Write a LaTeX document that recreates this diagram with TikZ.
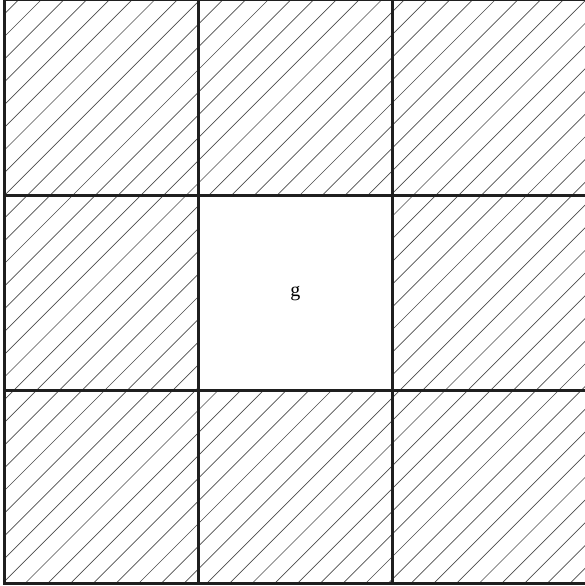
\documentclass[tikz,border=0pt]{standalone}
\usepackage{fontspec}
\setmainfont{Liberation Serif}
\begin{document}
\begin{tikzpicture}[x=1pt, y=1pt,
    hatch/.style={black!70, line width=0.65pt},
    grid/.style={black!88, line width=2.8pt}]
    \useasboundingbox (0,0) rectangle (584,586);
    \coordinate (SW) at (4.6,2.8);
    \coordinate (NE) at (586,586.3);
    \coordinate (A) at (198.4,195.2);
    \coordinate (B) at (392.2,390.2);

    % hatching over the whole square
    \begin{scope}
        \clip (SW) rectangle (NE);
        \foreach \k in {0,...,51}
            \draw[hatch] (0,{567.7-22.7*\k}) -- ++(600,600);
    \end{scope}

    % empty middle cell
    \fill[white] (A) rectangle (B);
    \node[font=\fontsize{20}{24}\selectfont] (g) at (295.3,292.7) {g};

    \draw[grid] (SW) rectangle (NE);
    \draw[grid] (A |- SW) -- (A |- NE);
    \draw[grid] (B |- SW) -- (B |- NE);
    \draw[grid] (SW |- A) -- (NE |- A);
    \draw[grid] (SW |- B) -- (NE |- B);
\end{tikzpicture}
\end{document}
